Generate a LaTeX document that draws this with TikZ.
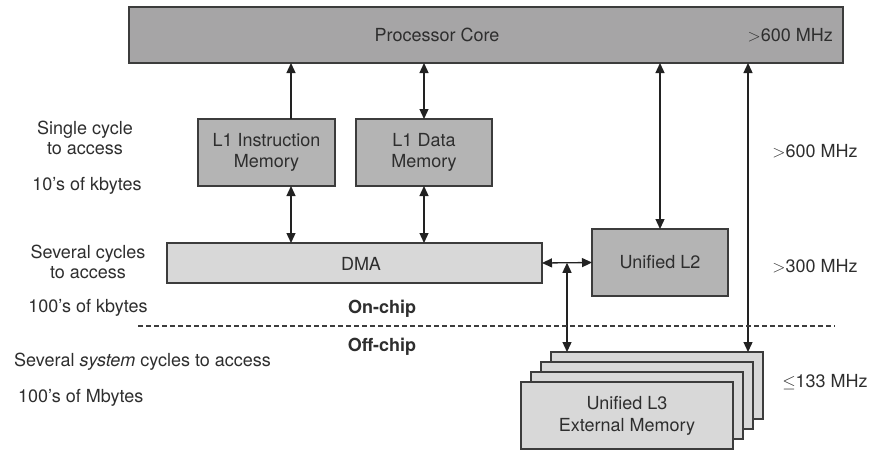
\documentclass[tikz,border=0pt]{standalone}
\usepackage{fontspec}
\setmainfont{TeX Gyre Heros}
\usetikzlibrary{arrows.meta,calc}
\definecolor{corefill}{HTML}{A6A5A6}
\definecolor{midfill}{HTML}{B4B4B4}
\definecolor{lightfill}{HTML}{D8D8D8}
\definecolor{bord}{HTML}{3C3C3C}
\definecolor{txt}{HTML}{2E2E2E}
\definecolor{arrc}{HTML}{222222}
\begin{document}
\begin{tikzpicture}[x=1pt,y=-1pt,
  every node/.style={font=\fontsize{18}{21}\selectfont, text=txt},
  box/.style={draw=bord, line width=1.5pt, inner sep=0pt, outer sep=0pt, anchor=north west, align=center},
  lbl/.style={inner sep=0pt, align=center},
  tip/.tip={Triangle[width=9pt,length=10pt]},
  arr/.style={line width=1.3pt, draw=arrc, tip-tip},
  uarr/.style={line width=1.3pt, draw=arrc, -tip},
]
\useasboundingbox (0,0) rectangle (874,450);

% boxes
\node[box, fill=corefill, minimum width=714pt, minimum height=56pt] (core) at (129,7) {};
\node[lbl] (coretxt) at (437,35) {Processor Core};
\node[lbl, anchor=east] (corefreq) at (833,35) {$>$600 MHz};

\node[box, fill=midfill, minimum width=137pt, minimum height=67pt] (L1I) at (198,119) {L1 Instruction\\Memory};
\node[box, fill=midfill, minimum width=136pt, minimum height=67pt] (L1D) at (356,119) {L1 Data\\Memory};
\node[box, fill=lightfill, minimum width=375pt, minimum height=40pt] (DMA) at (167,243) {};
\node[lbl] (dmatxt) at (361,264) {DMA};
\node[box, fill=midfill, minimum width=136pt, minimum height=67pt] (L2) at (592,229) {Unified L2};

% L3 stack
\node[box, fill=lightfill, minimum width=212pt, minimum height=67pt] (L3a) at (551,352) {};
\node[box, fill=lightfill, minimum width=212pt, minimum height=67pt] (L3b) at (541,362) {};
\node[box, fill=lightfill, minimum width=212pt, minimum height=67pt] (L3c) at (531,372) {};
\node[box, fill=lightfill, minimum width=212pt, minimum height=67pt] (L3) at (521,382) {Unified L3\\[1pt]External Memory};

% arrow x positions
\coordinate (xa) at (291,0);
\coordinate (xd) at (748,0);
\coordinate (j) at ($(DMA.east)!0.5!(L2.west)$);

% connectors
\draw[uarr] (L1I.north -| xa) -- (core.south -| xa);
\draw[arr] (L1I.south -| xa) -- (DMA.north -| xa);
\draw[arr] (L1D.north) -- (core.south -| L1D.north);
\draw[arr] (L1D.south) -- (DMA.north -| L1D.south);
\draw[arr] (L2.north) -- (core.south -| L2.north);
\draw[arr] (DMA.east) -- (L2.west);
\draw[arr] (j) -- (L3a.north -| j);
\draw[arr] (L3a.north -| xd) -- (core.south -| xd);

% chip boundary
\coordinate (dl) at (138,326);
\coordinate (dr) at (835,326);
\draw[line width=1.2pt, draw=bord, dash pattern=on 4.5pt off 3.5pt] (dl) -- (dr);
\node[lbl, font=\fontsize{18}{21}\selectfont\bfseries] (onchip) at (382,309) {On-chip};
\node[lbl, font=\fontsize{18}{21}\selectfont\bfseries] (offchip) at (382,347) {Off-chip};

% left labels
\node[lbl, font=\fontsize{18}{20.5}\selectfont] (l1acc) at (85,138) {Single cycle\\to access};
\node[lbl] (l1size) at (87,186) {10's of kbytes};
\node[lbl, font=\fontsize{18}{20.5}\selectfont] (l2acc) at (88,262) {Several cycles\\to access};
\node[lbl] (l2size) at (88,308) {100's of kbytes};
\node[lbl, anchor=west] (l3acc) at (14,362) {Several \textit{system} cycles to access};
\node[lbl, anchor=west] (l3size) at (18,398) {100's of Mbytes};

% right labels
\node[lbl] (f1) at (815,151) {$>$600 MHz};
\node[lbl] (f2) at (815,266) {$>$300 MHz};
\node[lbl] (f3) at (825,382) {$\leq$133 MHz};
\end{tikzpicture}
\end{document}
